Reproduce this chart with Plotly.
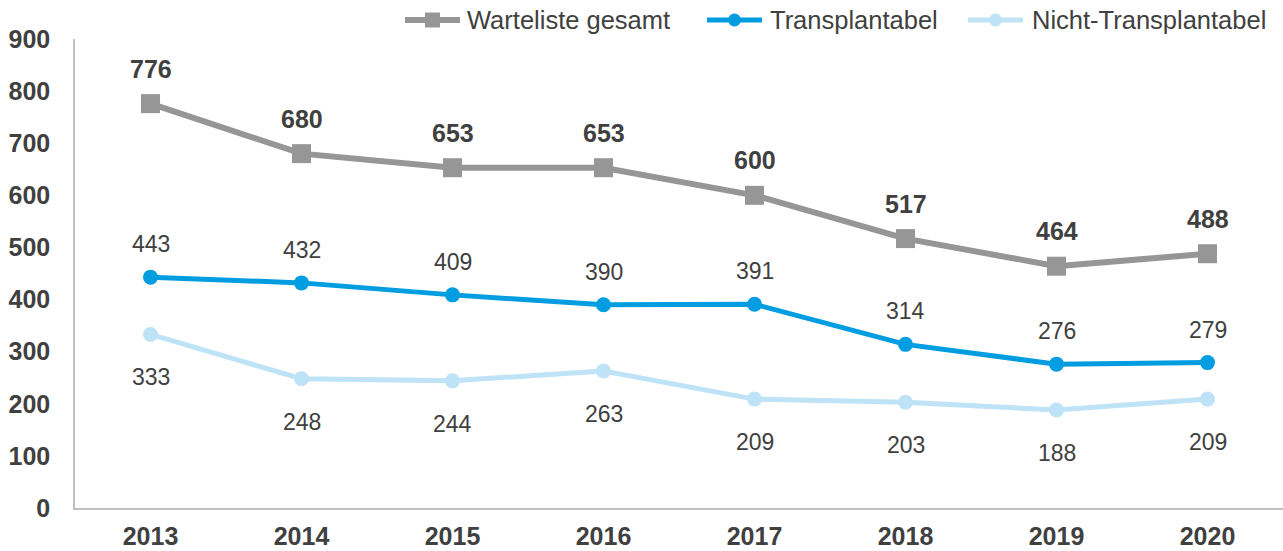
import plotly.graph_objects as go

# Jahre und Werte der Warteliste
years = ["2013", "2014", "2015", "2016", "2017", "2018", "2019", "2020"]
warteliste_gesamt = [776, 680, 653, 653, 600, 517, 464, 488]
transplantabel = [443, 432, 409, 390, 391, 314, 276, 279]
nicht_transplantabel = [333, 248, 244, 263, 209, 203, 188, 209]
y_ticks = [0, 100, 200, 300, 400, 500, 600, 700, 800, 900]

GRAY = "#969696"
BLUE = "#009EE0"
LIGHT = "#BEE3F6"
TEXT = "#404040"
FONT = "Liberation Sans, Arial, sans-serif"

W, H = 1283, 551
M_L, M_R, M_T, M_B = 75, 0, 39, 43

series = [
    ("Warteliste gesamt", warteliste_gesamt, GRAY, 6, "square", 19),
    ("Transplantabel", transplantabel, BLUE, 5, "circle", 15),
    ("Nicht-Transplantabel", nicht_transplantabel, LIGHT, 5, "circle", 15),
]

fig = go.Figure()
for name, values, color, lw, sym, ms in series:
    fig.add_trace(go.Scatter(
        x=years, y=values, name=name, mode="lines+markers",
        line=dict(color=color, width=lw),
        marker=dict(symbol=sym, size=ms, color=color),
        showlegend=False,
    ))

# Wertebeschriftungen an den Punkten (x als Kategorie-Index)
annotations = []
for i, v in enumerate(warteliste_gesamt):
    annotations.append(dict(x=i, y=v, xref="x", yref="y", text=str(v), showarrow=False, yshift=35,
                            font=dict(family=FONT, size=25, color=TEXT, weight="bold")))
for i, v in enumerate(transplantabel):
    annotations.append(dict(x=i, y=v, xref="x", yref="y", text=str(v), showarrow=False, yshift=33,
                            font=dict(family=FONT, size=23, color=TEXT)))
for i, v in enumerate(nicht_transplantabel):
    annotations.append(dict(x=i, y=v, xref="x", yref="y", text=str(v), showarrow=False, yshift=-43,
                            font=dict(family=FONT, size=23, color=TEXT)))

# Legende oberhalb der Zeichenfläche, in Pixeln umgerechnet auf Papierkoordinaten
pw = W - M_L - M_R
ph = H - M_T - M_B


def px_x(p):
    return (p - M_L) / pw


def px_y(p):
    return (H - M_B - p) / ph


shapes = []
legend_items = [
    # (Linienstart, Linienende, Textstart)
    (405, 460, 465),
    (707, 762, 768),
    (968, 1023, 1030),
]
ly = 20
for (name, values, color, lw, sym, ms), (x0, x1, tx) in zip(series, legend_items):
    shapes.append(dict(type="line", xref="paper", yref="paper",
                       x0=px_x(x0), x1=px_x(x1), y0=px_y(ly), y1=px_y(ly),
                       line=dict(color=color, width=lw)))
    cx = (x0 + x1) / 2
    r = 7.5 if sym == "square" else 6.5
    shapes.append(dict(type="rect" if sym == "square" else "circle",
                       xref="paper", yref="paper",
                       x0=px_x(cx - r), x1=px_x(cx + r), y0=px_y(ly + r), y1=px_y(ly - r),
                       fillcolor=color, line=dict(width=0)))
    annotations.append(dict(x=px_x(tx), y=px_y(ly), xref="paper", yref="paper",
                            xanchor="left", yanchor="middle", text=name, showarrow=False,
                            font=dict(family=FONT, size=25.5, color=TEXT)))

fig.update_layout(
    width=W, height=H,
    margin=dict(l=M_L, r=M_R, t=M_T, b=M_B, autoexpand=False),
    paper_bgcolor="white", plot_bgcolor="white",
    font=dict(family=FONT, color=TEXT),
    showlegend=False,
    annotations=annotations,
    shapes=shapes,
    xaxis=dict(
        type="category", range=[-0.5, 7.5],
        showgrid=False, showline=True, linecolor="#BFBFBF", linewidth=1.5,
        ticks="", tickfont=dict(family=FONT, size=25, color=TEXT, weight="bold"),
        ticklabelstandoff=5,
    ),
    yaxis=dict(
        range=[0, 900], tickvals=y_ticks,
        showgrid=False, zeroline=False, showline=True, linecolor="#BFBFBF", linewidth=1.5,
        ticks="", tickfont=dict(family=FONT, size=25, color=TEXT, weight="bold"),
        ticklabelstandoff=18,
    ),
)

fig.write_html("out.html")
